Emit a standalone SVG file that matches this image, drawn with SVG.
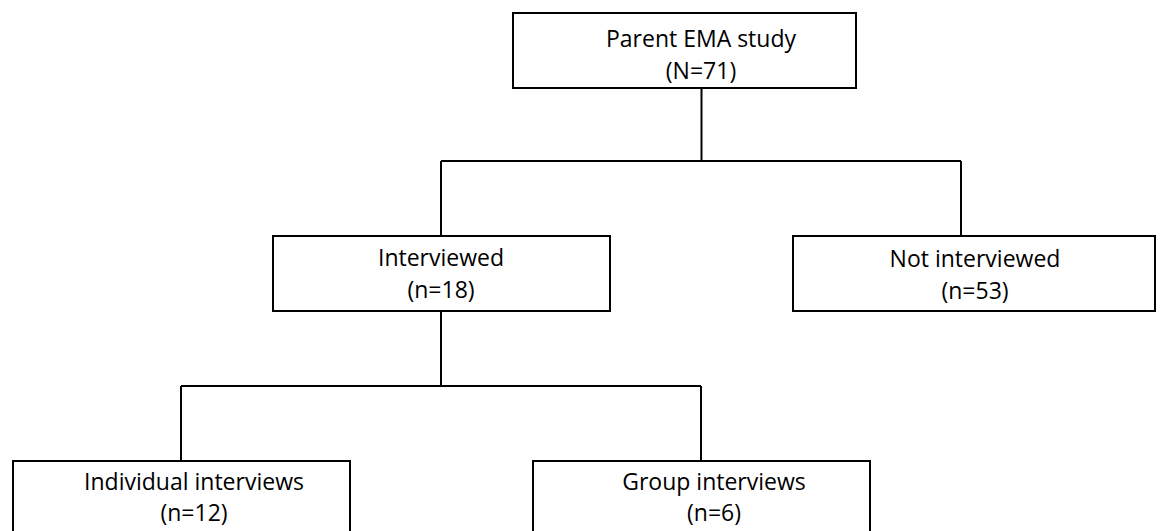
<svg xmlns="http://www.w3.org/2000/svg" width="1168" height="531" viewBox="0 0 1168 531">
<style>
.box{fill:#fff;stroke:#000;stroke-width:2}
.ln{fill:none;stroke:#000;stroke-width:2}
.t{font-family:"Open Sans","Liberation Sans",sans-serif;font-size:23px;fill:#000;text-anchor:middle}
</style>
<rect width="1168" height="531" fill="#fff"/>
<g id="connectors">
<path class="ln" d="M701.5 88 V161 M441 161 H961 M441 161 V236 M961 161 V236"/>
<path class="ln" d="M441 311 V386 M181 386 H701 M181 386 V461 M701 386 V461"/>
</g>
<g id="parent">
<rect class="box" x="513" y="13" width="343" height="75"/>
<text class="t" x="701" y="47">Parent EMA study</text>
<text class="t" x="701" y="79">(N=71)</text>
</g>
<g id="interviewed">
<rect class="box" x="273" y="236" width="337" height="75"/>
<text class="t" x="441" y="266">Interviewed</text>
<text class="t" x="441" y="298">(n=18)</text>
</g>
<g id="not-interviewed">
<rect class="box" x="793" y="236" width="362" height="75"/>
<text class="t" x="975" y="267">Not interviewed</text>
<text class="t" x="975" y="299">(n=53)</text>
</g>
<g id="individual">
<rect class="box" x="13" y="461" width="337" height="80"/>
<text class="t" x="194" y="490">Individual interviews</text>
<text class="t" x="194" y="521">(n=12)</text>
</g>
<g id="group">
<rect class="box" x="533" y="461" width="337" height="80"/>
<text class="t" x="714" y="490">Group interviews</text>
<text class="t" x="714" y="521">(n=6)</text>
</g>
</svg>
